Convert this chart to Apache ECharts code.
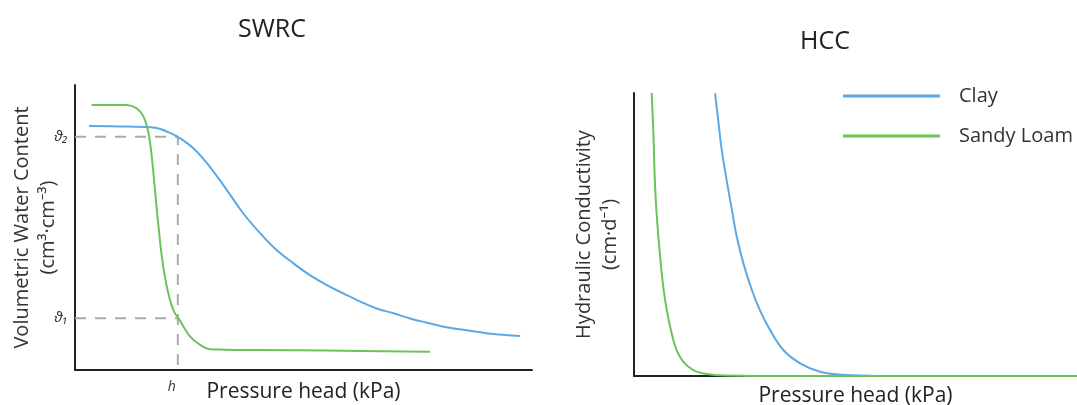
<!DOCTYPE html>
<html>
<head>
<meta charset="utf-8">
<script src="https://cdn.jsdelivr.net/npm/echarts@6/dist/echarts.min.js"></script>
<style>html,body{margin:0;padding:0;background:#fff}#c{width:1077px;height:405px}</style>
</head>
<body>
<div id="c"></div>
<script>
// SWRC (left) — arbitrary units, x: pressure head, y: water content
const swrcSandyLoam = [[3.6,93.0],[11.3,93.0],[13.5,91.8],[15.0,88.9],[16.1,83.0],[16.8,74.9],[17.5,63.2],[18.2,51.5],[19.0,39.8],[20.1,29.2],[21.5,21.1],[22.9,17.5],[25.2,11.7],[27.4,8.8],[29.5,7.3],[40.5,7.0],[55.1,6.8],[77.7,6.4]];
const swrcClay = [[3.1,85.6],[11.3,85.4],[17.5,85.0],[20.5,83.4],[22.5,81.8],[25.9,77.8],[29.5,71.3],[33.2,63.2],[36.8,55.0],[40.5,48.0],[44.1,42.1],[47.8,37.4],[51.4,33.3],[55.1,29.8],[58.7,26.9],[62.4,24.0],[66.0,21.6],[69.7,19.9],[73.3,18.1],[77.0,16.6],[80.6,15.2],[84.2,14.3],[87.9,13.4],[91.5,12.6],[97.4,11.9]];
const hValue = 22.5;
const theta2 = 81.8;
const theta1 = 18.2;
const xTickLabels = ['h'];
const yTickLabels = ['ϑ₁', 'ϑ₂'];
// HCC (right)
const hccSandyLoam = [[4.0,100],[4.4,84.6],[4.7,69.3],[5.1,57.5],[5.9,42.2],[6.6,31.6],[7.4,23.3],[8.5,15.1],[9.6,9.2],[11.1,5.1],[13.4,2.1],[16.4,0.7],[20.9,0.2],[35.9,0],[100,0]];
const hccClay = [[18.3,99.9],[19.0,90.5],[19.8,79.9],[20.9,69.3],[22.1,58.7],[23.2,49.2],[24.7,39.8],[26.6,30.4],[28.4,23.3],[30.7,16.3],[33.7,9.2],[37.5,4.5],[42.0,1.5],[47.2,0.4],[54.8,0],[100,0]];
const seriesNames = ['Clay', 'Sandy Loam'];

const BLUE = '#5aa9e6', GREEN = '#6cc35a', GUIDE = '#aaaaaa';
const FONT = '"Open Sans", "Noto Sans", sans-serif';
const chart = echarts.init(document.getElementById('c'));
const axisLine = {show: true, lineStyle: {color: '#222', width: 2}};
const nameStyle = {fontFamily: FONT, fontSize: 20, color: '#333', lineHeight: 26};
const lineSeries = (name, data, color, idx) => ({
  name, type: 'line', data, xAxisIndex: idx, yAxisIndex: idx,
  smooth: 0.4, showSymbol: false, symbol: 'none',
  lineStyle: {color, width: 2}, itemStyle: {color}, z: 3
});
chart.setOption({
  animation: false,
  title: [
    {text: 'SWRC', left: 267, top: 12, textAlign: 'center', textStyle: {fontFamily: FONT, fontSize: 25, fontWeight: 'normal', color: '#222'}},
    {text: 'HCC', left: 820, top: 24, textAlign: 'center', textStyle: {fontFamily: FONT, fontSize: 25, fontWeight: 'normal', color: '#222'}}
  ],
  legend: {
    data: seriesNames, orient: 'vertical', left: 838, top: 80, itemGap: 18,
    itemWidth: 97, itemHeight: 3, icon: 'rect',
    textStyle: {fontFamily: FONT, fontSize: 20, lineHeight: 22, color: '#333', padding: [0, 0, 0, 14]}
  },
  grid: [
    {left: 75, right: 545, top: 85, bottom: 35, outerBoundsMode: 'none'},
    {left: 634, right: 0, top: 93, bottom: 29, outerBoundsMode: 'none'}
  ],
  xAxis: [
    {type: 'value', gridIndex: 0, min: 0, max: 100, splitLine: {show: false}, axisLine,
     axisTick: {show: false},
     axisLabel: {customValues: [hValue], formatter: () => xTickLabels[0], fontFamily: FONT, fontStyle: 'italic', fontSize: 14, color: '#333', margin: 10, padding: [0, 12, 0, 0]},
     name: 'Pressure head (kPa)', nameLocation: 'middle', nameGap: 12, nameMoveOverlap: false,
     nameTextStyle: {fontFamily: FONT, fontSize: 21, color: '#222'}},
    {type: 'value', gridIndex: 1, min: 0, max: 100, splitLine: {show: false}, axisLine,
     axisTick: {show: false}, axisLabel: {show: false},
     name: 'Pressure head (kPa)', nameLocation: 'middle', nameGap: 10, nameMoveOverlap: false,
     nameTextStyle: {fontFamily: FONT, fontSize: 21, color: '#222'}}
  ],
  yAxis: [
    {type: 'value', gridIndex: 0, min: 0, max: 100, splitLine: {show: false}, axisLine,
     axisTick: {show: false},
     axisLabel: {customValues: [theta1, theta2], formatter: v => (v === theta1 ? yTickLabels[0] : yTickLabels[1]), fontFamily: FONT, fontStyle: 'italic', fontSize: 15, color: '#333', margin: 7},
     name: 'Volumetric Water Content\n(cm³·cm⁻³)', nameLocation: 'middle', nameGap: 14, nameRotate: 90, nameMoveOverlap: false, nameTextStyle: nameStyle},
    {type: 'value', gridIndex: 1, min: 0, max: 100, splitLine: {show: false}, axisLine,
     axisTick: {show: false}, axisLabel: {show: false},
     name: 'Hydraulic Conductivity\n(cm·d⁻¹)', nameLocation: 'middle', nameGap: 11, nameRotate: 90, nameMoveOverlap: false, nameTextStyle: nameStyle}
  ],
  series: [
    {type: 'line', xAxisIndex: 0, yAxisIndex: 0, data: [[0, theta2], [hValue, theta2], [hValue, 0]],
     showSymbol: false, symbol: 'none', lineStyle: {color: GUIDE, width: 2, type: [11, 9]}, z: 2, silent: true},
    {type: 'line', xAxisIndex: 0, yAxisIndex: 0, data: [[0, theta1], [hValue, theta1]],
     showSymbol: false, symbol: 'none', lineStyle: {color: GUIDE, width: 2, type: [11, 9]}, z: 2, silent: true},
    lineSeries('Clay', swrcClay, BLUE, 0),
    lineSeries('Sandy Loam', swrcSandyLoam, GREEN, 0),
    lineSeries('Clay', hccClay, BLUE, 1),
    lineSeries('Sandy Loam', hccSandyLoam, GREEN, 1)
  ]
});
</script>
</body>
</html>
